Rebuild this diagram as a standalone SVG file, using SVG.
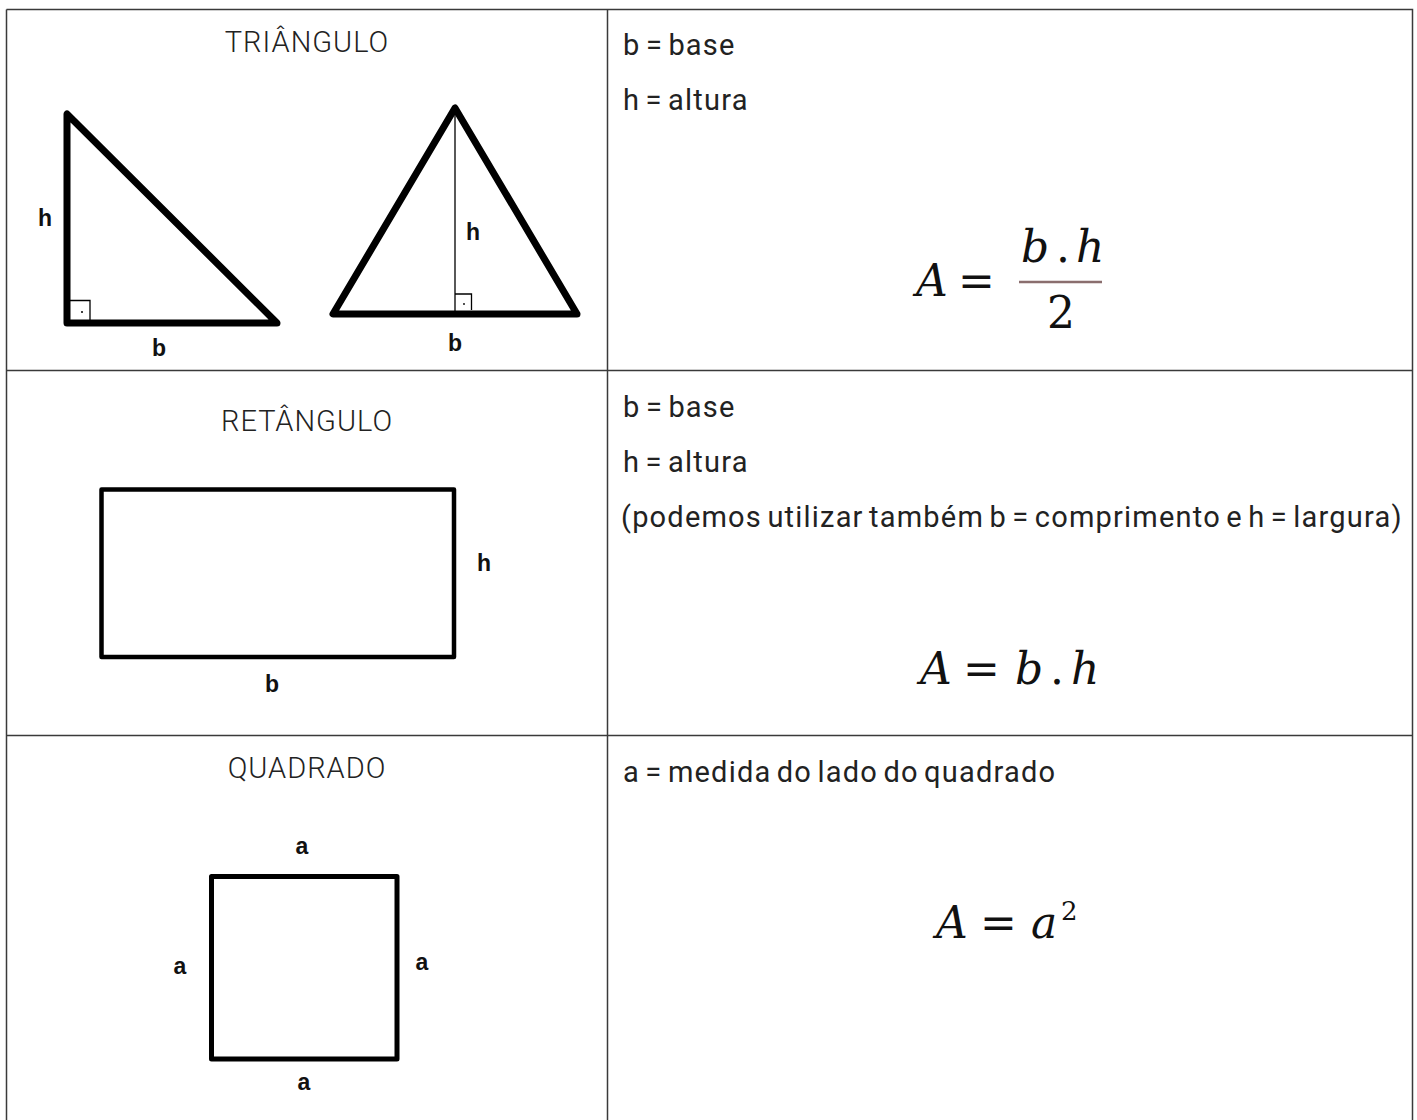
<svg xmlns="http://www.w3.org/2000/svg" width="1417" height="1120" viewBox="0 0 1417 1120">
<style>
.grid{stroke:#3a3a3a;stroke-width:1.5;fill:none}
.hdr{font-family:Roboto,"Liberation Sans",sans-serif;font-weight:300;font-size:29px;letter-spacing:1px;fill:#222;text-anchor:middle}
.txt{font-family:Roboto,"Liberation Sans",sans-serif;font-weight:400;font-size:29px;letter-spacing:1.2px;word-spacing:-3px;fill:#222}
.lbl{font-family:"Liberation Sans",Arial,sans-serif;font-weight:700;font-size:23px;fill:#111;text-anchor:middle}
.fm{font-family:"DejaVu Serif",serif;font-style:italic;font-size:44px;fill:#111}
.fmu{font-family:"DejaVu Serif",serif;font-size:44px;fill:#111}
.sup{font-family:"DejaVu Serif",serif;font-size:26px;fill:#111}
.thick{stroke:#000;fill:none;stroke-linejoin:round}
.thin{stroke:#000;fill:none;stroke-width:1.3}
</style>
<rect x="0" y="0" width="1417" height="1120" fill="#fff"/>
<g id="table">
<path class="grid" d="M6.5 9.5H1412.5V1120M6.5 9.5V1120M607.5 9.5V1120M6.5 370.5H1412.5M6.5 735.5H1412.5"/>
</g>
<g id="triangulo">
<text class="hdr" x="307" y="52">TRIÂNGULO</text>
<path class="thick" stroke-width="7" d="M67 114V323H277Z"/>
<path class="thin" d="M67 300.5H90V323"/>
<circle cx="82" cy="312" r="1" fill="#000"/>
<text class="lbl" x="45" y="226">h</text>
<text class="lbl" x="159" y="356">b</text>
<path class="thick" stroke-width="7" d="M455 108L333 314H577Z"/>
<path class="thin" d="M455 108V314M455 294H471.5V310"/>
<circle cx="464" cy="304" r="0.9" fill="#000"/>
<text class="lbl" x="473" y="240">h</text>
<text class="lbl" x="455" y="351">b</text>
</g>
<g id="triangulo-formula">
<text class="txt" x="623" y="55">b = base</text>
<text class="txt" x="623" y="110">h = altura</text>
<text class="fm" x="916" y="296">A</text>
<text class="fmu" x="958" y="296">=</text>
<text class="fm" x="1021" y="262">b</text>
<text class="fmu" x="1056" y="262">.</text>
<text class="fm" x="1076" y="262">h</text>
<line x1="1019" y1="282" x2="1102" y2="282" stroke="#8a6e6e" stroke-width="2.5"/>
<text class="fmu" x="1061" y="328" text-anchor="middle">2</text>
</g>
<g id="retangulo">
<text class="hdr" x="307" y="431">RETÂNGULO</text>
<rect class="thick" stroke-width="4.5" x="101.5" y="489.5" width="352.5" height="167.5"/>
<text class="lbl" x="484" y="571">h</text>
<text class="lbl" x="272" y="692">b</text>
</g>
<g id="retangulo-formula">
<text class="txt" x="623" y="417">b = base</text>
<text class="txt" x="623" y="472">h = altura</text>
<text class="txt" x="621" y="527">(podemos utilizar também b = comprimento e h = largura)</text>
<text class="fm" x="920" y="684">A</text>
<text class="fmu" x="963" y="684">=</text>
<text class="fm" x="1015" y="684">b</text>
<text class="fmu" x="1050" y="684">.</text>
<text class="fm" x="1071" y="684">h</text>
</g>
<g id="quadrado">
<text class="hdr" x="307" y="778">QUADRADO</text>
<rect class="thick" stroke-width="5" x="211.5" y="876.5" width="185.5" height="182.5"/>
<text class="lbl" x="302" y="854">a</text>
<text class="lbl" x="180" y="974">a</text>
<text class="lbl" x="422" y="970">a</text>
<text class="lbl" x="304" y="1090">a</text>
</g>
<g id="quadrado-formula">
<text class="txt" x="623" y="782">a = medida do lado do quadrado</text>
<text class="fm" x="936" y="938">A</text>
<text class="fmu" x="980" y="938">=</text>
<text class="fm" x="1031" y="938">a</text>
<text class="sup" x="1061" y="920">2</text>
</g>
</svg>
